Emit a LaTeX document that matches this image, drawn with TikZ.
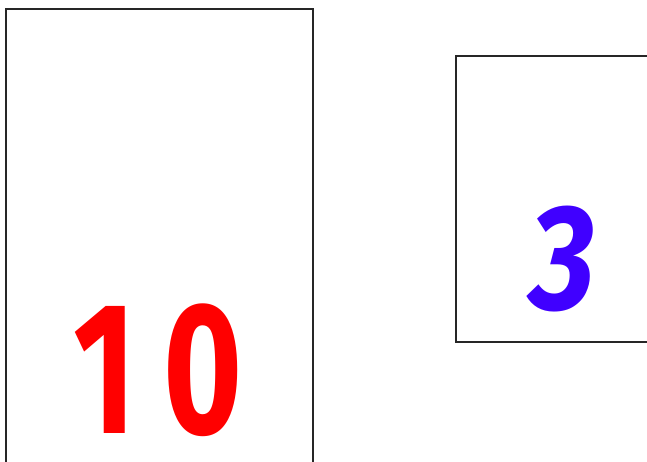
\documentclass[tikz,border=0pt]{standalone}
\usepackage{fontspec}
\setmainfont{Fira Sans}
\definecolor{numred}{RGB}{255,0,0}
\definecolor{numblue}{RGB}{64,0,255}
\tikzset{
  card/.style={draw=black!85, line width=1.8pt, fill=white},
  digits/.style={inner sep=0pt, text depth=0pt, font=\fontsize{188}{188}\selectfont\bfseries},
}
\begin{document}
\begin{tikzpicture}[x=1pt,y=1pt]
\useasboundingbox (0,0) rectangle (647,462);
\begin{scope}
\clip (0,0) rectangle (647,462);
\path[card] (6,453) rectangle (313,-20);
\path[card] (456,406) rectangle (670,120);
\end{scope}
\node[digits, text=numred, anchor=base] (ten) at (158,28) {\scalebox{0.72}[1]{1\kern 38pt 0}};
\node[digits, text=numblue, anchor=base, font=\fontsize{150}{150}\selectfont\bfseries\itshape] (three) at (563,152) {\scalebox{0.85}[1]{3}};
\end{tikzpicture}
\end{document}
